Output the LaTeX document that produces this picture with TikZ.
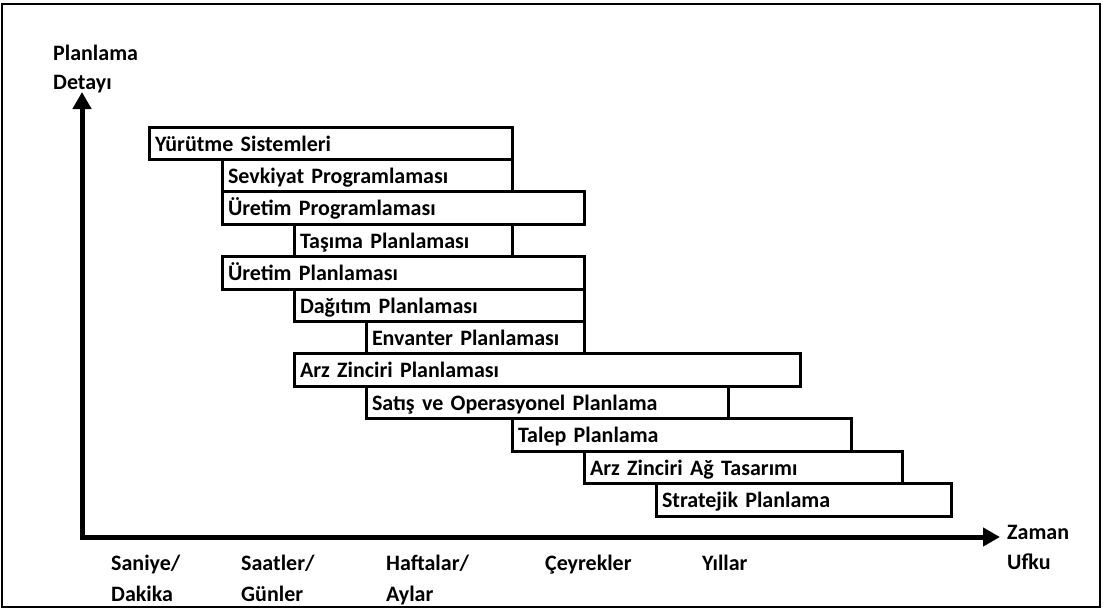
\documentclass[tikz,border=0pt]{standalone}
\usepackage{fontspec}
\setmainfont{Carlito}
\usetikzlibrary{arrows.meta}

\tikzset{
  lbl/.style={anchor=base west, inner sep=0pt, font=\fontsize{22}{26}\selectfont\bfseries},
  planbar/.style 2 args={draw, line width=3pt, fill=white, anchor=north west, outer sep=0pt,
    minimum width=#1, text width=#2, minimum height=32.42pt, inner xsep=6pt, inner ysep=0pt,
    text height=15.6pt, text depth=0pt, align=left, font=\fontsize{22}{26}\selectfont\bfseries},
  axis/.style={line width=5pt, line join=miter,
    {Triangle[length=17pt,width=18pt]}-{Triangle[length=17pt,width=18pt]}},
  frame/.style={line width=2pt}
}

% one bar of the planning chart: name, left x, right x, row, label
\newcommand\planbar[5]{%
  \pgfmathsetlengthmacro\barw{#3-#2}%
  \pgfmathsetlengthmacro\barwt{#3-#2-12}%
  \node[planbar={\barw}{\barwt}] (#1) at (#2,{127+32.42*#4}) {#5};%
}

\begin{document}
\begin{tikzpicture}[x=1pt,y=-1pt]
  \useasboundingbox (0,0) rectangle (1103,610);
  \draw[frame] (2,4) rectangle (1100,607);

  % axes
  \coordinate (origin) at (82,537);
  \coordinate (ytip) at (82,92);
  \coordinate (xtip) at (1000,537);
  \draw[axis] (ytip) -- (origin) -- (xtip);

  % axis titles
  \node[lbl] (ytitle1) at (53,60) {Planlama};
  \node[lbl] (ytitle2) at (53,89) {Detayı};
  \node[lbl] (xtitle1) at (1007,539) {Zaman};
  \node[lbl] (xtitle2) at (1007,569) {Ufku};

  % time horizon scale
  \node[lbl] (t1a) at (111,570) {Saniye/};
  \node[lbl] (t1b) at (111,601) {Dakika};
  \node[lbl] (t2a) at (241,570) {Saatler/};
  \node[lbl] (t2b) at (241,601) {Günler};
  \node[lbl] (t3a) at (386,570) {Haftalar/};
  \node[lbl] (t3b) at (386,601) {Aylar};
  \node[lbl] (t4) at (545,570) {Çeyrekler};
  \node[lbl] (t5) at (702,570) {Yıllar};

  % planning activities
  \planbar{yur}{149}{512}{0}{Yürütme Sistemleri}
  \planbar{sev}{222}{512}{1}{Sevkiyat Programlaması}
  \planbar{urp}{222}{584}{2}{Üretim Programlaması}
  \planbar{tas}{294}{512}{3}{Taşıma Planlaması}
  \planbar{upl}{222}{584}{4}{Üretim Planlaması}
  \planbar{dag}{294}{584}{5}{Dağıtım Planlaması}
  \planbar{env}{366}{584}{6}{Envanter Planlaması}
  \planbar{arz}{294}{800}{7}{Arz Zinciri Planlaması}
  \planbar{sat}{366}{728}{8}{Satış ve Operasyonel Planlama}
  \planbar{tal}{512}{851}{9}{Talep Planlama}
  \planbar{ag}{584}{902}{10}{Arz Zinciri Ağ Tasarımı}
  \planbar{str}{656}{951}{11}{Stratejik Planlama}
\end{tikzpicture}
\end{document}
